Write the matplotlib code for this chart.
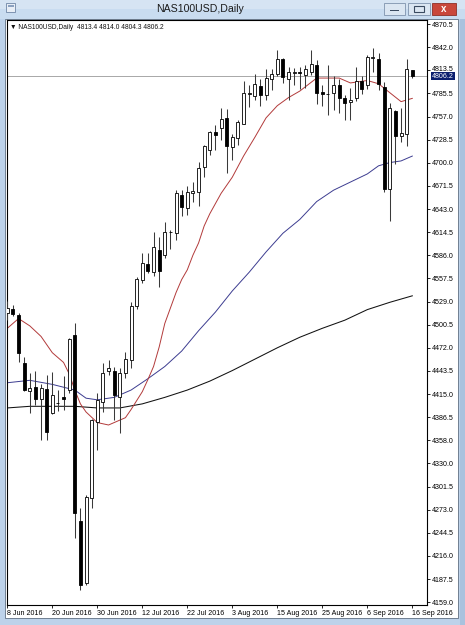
import matplotlib
matplotlib.use("Agg")
import matplotlib.pyplot as plt
from matplotlib.patches import Rectangle
from matplotlib.transforms import blended_transform_factory, ScaledTranslation

# ---------------- data ----------------
opens = [4515, 4520, 4512, 4453, 4419, 4424, 4409, 4421, 4392, 4404,
         4411, 4420, 4488, 4259, 4183, 4287, 4381, 4405, 4443, 4444,
         4412, 4441, 4457, 4523, 4556, 4575, 4565, 4592, 4586, 4615,
         4613, 4660, 4644, 4663, 4664, 4695, 4716, 4738, 4742, 4755,
         4719, 4730, 4748, 4785, 4782, 4794, 4783, 4803, 4809, 4827,
         4803, 4810, 4811, 4808, 4811, 4820, 4787, 4785, 4786, 4796,
         4780, 4774, 4779, 4800, 4796, 4829, 4828, 4793, 4668, 4764,
         4733, 4735, 4813.4]
highs = [4530, 4525, 4515, 4461, 4441, 4444, 4428, 4439, 4442, 4420,
         4437, 4484, 4502, 4275, 4291, 4385, 4416, 4453, 4457, 4449,
         4447, 4467, 4529, 4559, 4589, 4589, 4615, 4608, 4627, 4617,
         4666, 4666, 4671, 4676, 4701, 4722, 4739, 4746, 4767, 4766,
         4735, 4752, 4800, 4796, 4809, 4803, 4815, 4815, 4839, 4829,
         4818, 4817, 4818, 4820, 4839, 4826, 4795, 4820, 4807, 4803,
         4783, 4792, 4818, 4807, 4832, 4841, 4835, 4799, 4773, 4765,
         4767, 4827, 4814.0]
lows = [4506, 4511, 4455, 4419, 4392, 4402, 4358, 4358, 4390, 4394,
        4396, 4416, 4238, 4174, 4180, 4275, 4346, 4393, 4438, 4383,
        4367, 4435, 4447, 4520, 4552, 4564, 4560, 4547, 4583, 4594,
        4605, 4634, 4636, 4651, 4647, 4682, 4709, 4715, 4728, 4687,
        4703, 4722, 4747, 4769, 4777, 4770, 4777, 4789, 4806, 4798,
        4777, 4795, 4790, 4792, 4808, 4772, 4770, 4758, 4765, 4761,
        4752, 4752, 4776, 4784, 4791, 4812, 4789, 4664, 4628, 4698,
        4725, 4720, 4804.3]
closes = [4521, 4514, 4466, 4420, 4422, 4409, 4422, 4368, 4414, 4404,
          4409, 4483, 4269, 4180, 4289, 4383, 4408, 4441, 4447, 4414,
          4441, 4458, 4523, 4557, 4576, 4566, 4596, 4567, 4615, 4614,
          4662, 4645, 4664, 4665, 4693, 4720, 4738, 4734, 4754, 4720,
          4732, 4750, 4786, 4786, 4797, 4783, 4804, 4809, 4828, 4805,
          4811, 4811, 4810, 4815, 4821, 4786, 4784, 4785, 4796, 4779,
          4773, 4777, 4800, 4791, 4830, 4830, 4797, 4668, 4767, 4733,
          4736, 4815, 4806.2]

# moving averages: bar index -> value
red_idx = [0, 2, 4, 6, 8, 10, 11, 12, 13, 14, 16, 18, 20, 21, 22, 24, 25, 26, 27,
           28, 29, 30, 31, 32, 33, 34, 35, 36, 38, 40, 42, 44, 46, 48, 50, 52,
           55, 59, 61, 64, 66, 68, 70, 72]
red_val = [4496, 4508, 4499, 4486, 4466, 4454, 4440, 4420, 4403, 4393, 4380,
           4377, 4383, 4386, 4396, 4418, 4433, 4449, 4473, 4502, 4521, 4540,
           4556, 4568, 4586, 4601, 4622, 4637, 4662, 4682, 4708, 4731, 4755,
           4770, 4780, 4788, 4804, 4804, 4798, 4801, 4797, 4786, 4775, 4779]
blue_idx = [0, 4, 8, 12, 14, 16, 19, 22, 25, 28, 31, 34, 37, 40, 43, 46, 49,
            52, 55, 58, 61, 64, 66, 67, 68, 70, 72]
blue_val = [4429, 4432, 4427, 4420, 4410, 4408, 4411, 4420, 4434, 4449, 4468,
            4493, 4516, 4542, 4565, 4590, 4613, 4630, 4652, 4666, 4676, 4686,
            4696, 4698, 4700, 4702, 4708]
black_idx = [0, 4, 8, 12, 16, 20, 24, 28, 32, 36, 40, 44, 48, 52, 56, 60, 64,
             68, 72]
black_val = [4398, 4400, 4400, 4400, 4398, 4398, 4403, 4411, 4420, 4431, 4444,
             4458, 4472, 4485, 4496, 4506, 4519, 4528, 4536]

date_idx = [0, 8, 16, 24, 32, 40, 48, 56, 64, 72]
date_labels = ["8 Jun 2016", "20 Jun 2016", "30 Jun 2016", "12 Jul 2016",
               "22 Jul 2016", "3 Aug 2016", "15 Aug 2016", "25 Aug 2016",
               "6 Sep 2016", "16 Sep 2016"]
price_labels = ["4159.0", "4187.5", "4216.0", "4244.5", "4273.0", "4301.5",
                "4330.0", "4358.0", "4386.5", "4415.0", "4443.5", "4472.0",
                "4500.5", "4529.0", "4557.5", "4586.0", "4614.5", "4643.0",
                "4671.5", "4700.0", "4728.5", "4757.0", "4785.5", "4813.5",
                "4842.0", "4870.5"]
price_lo, price_hi = 4159.0, 4870.5
last_price = 4806.2
symbol = "NAS100USD,Daily"

# ---------------- figure ----------------
W, H = 465, 625
fig = plt.figure(figsize=(W / 100, H / 100), dpi=100)
frame = "#bdd2ea"
fig.patch.set_facecolor(frame)
FONT = ["Liberation Sans", "DejaVu Sans"]


def prect(x0, y0, x1, y1, **kw):
    kw.setdefault("zorder", -10)
    fig.patches.append(Rectangle((x0 / W, 1 - y1 / H), (x1 - x0) / W, (y1 - y0) / H,
                                 transform=fig.transFigure, **kw))


# title bar
prect(0, 0, W, 19, facecolor="#c9dcf0", edgecolor="none")
prect(0, 0, W, 9, facecolor="#d6e4f3", edgecolor="none")
fig.text(200 / W, 1 - 9.5 / H, symbol, ha="center", va="center",
         fontsize=7.6, color="#1b1b1b", family=FONT)
# icon
prect(6, 3, 15, 12, facecolor="#e8eef6", edgecolor="#6f86a6", linewidth=0.6)
prect(7.5, 5, 13.5, 7, facecolor="#8aa0bf", edgecolor="none", zorder=-9)
# buttons
prect(384, 3, 405, 15, facecolor="#dbe6f2", edgecolor="#7f93ad", linewidth=0.6)
prect(390, 9.5, 399, 11, facecolor="#3a4a60", edgecolor="none", zorder=-9)
prect(408, 3, 430, 15, facecolor="#dbe6f2", edgecolor="#7f93ad", linewidth=0.6)
prect(414, 6, 424, 12, facecolor="none", edgecolor="#3a4a60", linewidth=0.8, zorder=-9)
prect(432, 3, 456, 15, facecolor="#c9473b", edgecolor="#8e2f27", linewidth=0.6)
fig.text(444 / W, 1 - 9 / H, "x", ha="center", va="center", fontsize=7,
         color="white", fontweight="bold", family=FONT)

# white chart window
prect(5, 19, 458, 618, facecolor="white", edgecolor="#5f6f82", linewidth=0.6)
# right neighbour strip
prect(460, 19, 465, 625, facecolor="#a9c2de", edgecolor="none")

# axes
ax = fig.add_axes([7 / W, 1 - 605 / H, 420 / W, 585 / H])
ax.set_facecolor("white")
bar_px = 5.625
ax.set_xlim((7 - 7.3) / bar_px, (427 - 7.3) / bar_px)
y0px, y0val, ppx = 301.5, 4529.0, 0.8125
ax.set_ylim(y0val - (605 - y0px) / ppx, y0val + (y0px - 20) / ppx)
for s in ax.spines.values():
    s.set_color("black")
    s.set_linewidth(0.8)

# current price line
ax.axhline(last_price, color="#a8a8a8", lw=0.7, zorder=1)

# moving averages
ax.plot(black_idx, black_val, color="#111111", lw=0.75, zorder=2)
ax.plot(blue_idx, blue_val, color="#3c3c90", lw=0.7, zorder=2)
ax.plot(red_idx, red_val, color="#b23a3a", lw=0.7, zorder=2)

# candles
xs = list(range(len(opens)))
ax.vlines(xs, lows, highs, color="#3a3a3a", lw=0.75, zorder=3)
bottoms = [min(o, c) for o, c in zip(opens, closes)]
heights = [abs(c - o) for o, c in zip(opens, closes)]
faces = ["black" if c < o else "white" for o, c in zip(opens, closes)]
ax.bar(xs, heights, bottom=bottoms, width=0.55, color=faces,
       edgecolor="black", linewidth=0.6, zorder=4)

# y axis (right)
step = (price_hi - price_lo) / (len(price_labels) - 1)
yt = [price_lo + i * step for i in range(len(price_labels))]
ax.yaxis.tick_right()
ax.set_yticks(yt)
ax.set_yticklabels(price_labels)
ax.tick_params(axis="y", direction="out", length=2.2, width=0.6, pad=1.2,
               labelsize=5.1, colors="black")
for t in ax.get_yticklabels():
    t.set_family(FONT)
    if t.get_text() == "4813.5":
        t.set_transform(t.get_transform() + ScaledTranslation(0, 1.6 / 72, fig.dpi_scale_trans))

# x axis
ax.set_xticks(date_idx)
ax.set_xticklabels(date_labels, ha="left")
ax.tick_params(axis="x", direction="out", length=2.2, width=0.6, pad=1.5,
               labelsize=5.1, colors="black")
for t in ax.get_xticklabels():
    t.set_family(FONT)

# last price box
trans = blended_transform_factory(ax.transAxes, ax.transData)
ax.text(1.012, last_price, f"{last_price:.1f}", transform=trans, ha="left",
        va="center", fontsize=5.1, color="white", family=FONT, zorder=6,
        bbox=dict(boxstyle="square,pad=0.1", facecolor="#0c1f6e",
                  edgecolor="none"), clip_on=False)

# header inside chart
ax.text(0.008, 0.993,
        "\u25BC " + symbol + "  " + " ".join(f"{v:.1f}" for v in
                                            (opens[-1], highs[-1], lows[-1], closes[-1])),
        transform=ax.transAxes, ha="left", va="top", fontsize=4.8,
        color="#111111", family=FONT)

fig.savefig("out.png", dpi=100, facecolor=fig.get_facecolor())
